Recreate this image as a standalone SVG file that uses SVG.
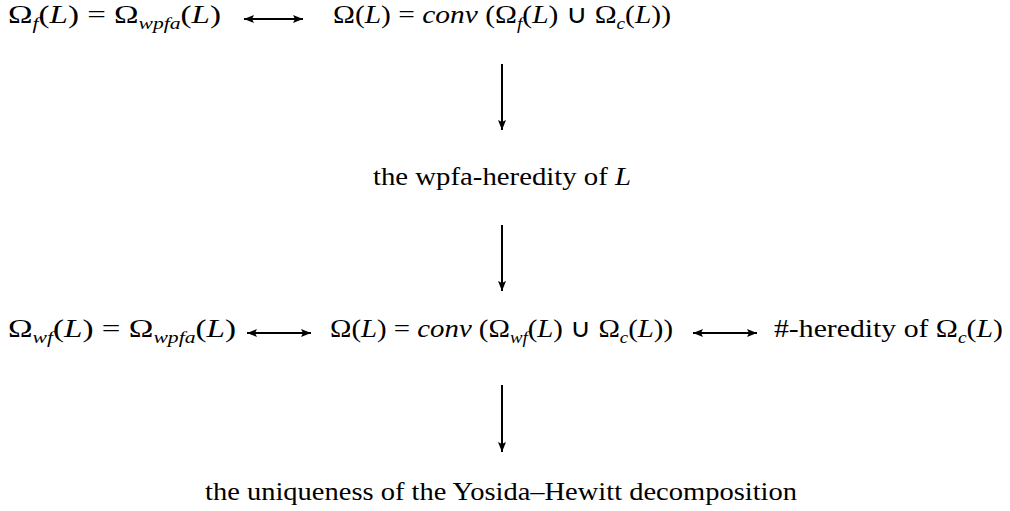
<svg xmlns="http://www.w3.org/2000/svg" width="1010" height="511" viewBox="0 0 1010 511">
<style>
text{font-family:"Liberation Serif","Times New Roman",serif;font-size:26px;fill:#000}
.i{font-style:italic}
.s{font-size:17px;font-style:italic}
.c{stroke:#000;stroke-width:2;fill:none}
</style>
<defs>
<marker id="ah" viewBox="0 0 10 8" refX="10" refY="4" markerWidth="10" markerHeight="8" markerUnits="userSpaceOnUse" orient="auto-start-reverse">
<path d="M0,0 L10,4 L0,8 L2,4 Z" fill="#000"/>
</marker>
</defs>
<rect width="1010" height="511" fill="#fff"/>
<g id="n1"><text x="8" y="23" textLength="213" lengthAdjust="spacingAndGlyphs">Ω<tspan class="s" baseline-shift="-6">f</tspan>(<tspan class="i">L</tspan>) = Ω<tspan class="s" baseline-shift="-6">wpfa</tspan>(<tspan class="i">L</tspan>)</text></g>
<g id="n2"><text x="333" y="23" textLength="338" lengthAdjust="spacingAndGlyphs">Ω(<tspan class="i">L</tspan>) = <tspan class="i">conv</tspan> (Ω<tspan class="s" baseline-shift="-6">f</tspan>(<tspan class="i">L</tspan>) ∪ Ω<tspan class="s" baseline-shift="-6">c</tspan>(<tspan class="i">L</tspan>))</text></g>
<g id="n3"><text x="373" y="185" textLength="258" lengthAdjust="spacingAndGlyphs">the wpfa-heredity of <tspan class="i">L</tspan></text></g>
<g id="n4"><text x="8" y="337" textLength="228" lengthAdjust="spacingAndGlyphs">Ω<tspan class="s" baseline-shift="-6">wf</tspan>(<tspan class="i">L</tspan>) = Ω<tspan class="s" baseline-shift="-6">wpfa</tspan>(<tspan class="i">L</tspan>)</text></g>
<g id="n5"><text x="330" y="337" textLength="343" lengthAdjust="spacingAndGlyphs">Ω(<tspan class="i">L</tspan>) = <tspan class="i">conv</tspan> (Ω<tspan class="s" baseline-shift="-6">wf</tspan>(<tspan class="i">L</tspan>) ∪ Ω<tspan class="s" baseline-shift="-6">c</tspan>(<tspan class="i">L</tspan>))</text></g>
<g id="n6"><text x="774" y="337" textLength="229" lengthAdjust="spacingAndGlyphs">#-heredity of Ω<tspan class="s" baseline-shift="-6">c</tspan>(<tspan class="i">L</tspan>)</text></g>
<g id="n7"><text x="205" y="500" textLength="592" lengthAdjust="spacingAndGlyphs">the uniqueness of the Yosida–Hewitt decomposition</text></g>
<g id="connectors">
<line class="c" x1="244" y1="19" x2="303" y2="19" marker-start="url(#ah)" marker-end="url(#ah)"/>
<line class="c" x1="247" y1="333" x2="311" y2="333" marker-start="url(#ah)" marker-end="url(#ah)"/>
<line class="c" x1="693" y1="333" x2="757" y2="333" marker-start="url(#ah)" marker-end="url(#ah)"/>
<line class="c" x1="502" y1="64" x2="502" y2="130" marker-end="url(#ah)"/>
<line class="c" x1="502" y1="225" x2="502" y2="291" marker-end="url(#ah)"/>
<line class="c" x1="502" y1="385" x2="502" y2="452" marker-end="url(#ah)"/>
</g>
</svg>
